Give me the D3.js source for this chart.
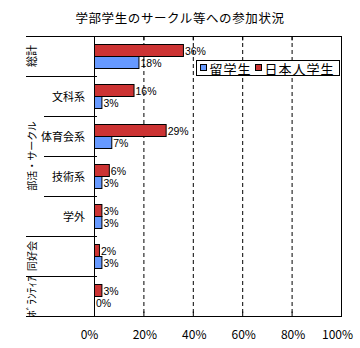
<!DOCTYPE html>
<html><head><meta charset="utf-8">
<script src="https://cdn.jsdelivr.net/npm/d3@7"></script>
<style>
html,body{margin:0;padding:0;background:#fff;}
svg{display:block;font-family:"Noto Sans CJK JP","Noto Sans",sans-serif;}
</style></head>
<body>
<svg id="chart" width="360" height="348"></svg>
<script>
const title = "学部学生のサークル等への参加状況";
const rowLabels = ["", "文科系", "体育会系", "技術系", "学外", "", ""];
const groupLabels = ["総計", "部活・サークル", "同好会", "ﾎﾞﾗﾝﾃｨｱ"];
const groupSpans = [1, 4, 1, 1];
const seriesNames = ["日本人学生", "留学生"];
const japanese = [36, 16, 29, 6, 3, 2, 3];
const intl = [18, 3, 7, 3, 3, 3, 0];
const xTicks = [0, 20, 40, 60, 80, 100];
const colors = {"日本人学生": "#cc3333", "留学生": "#6699ff"};

const svg = d3.select("#chart");
const L = 94, R = 341, T = 36, B = 316, labelLeft = 26, subLeft = 44;

const x = d3.scaleLinear().domain([0, 100]).range([L, R]);
const y = d3.scaleBand().domain(d3.range(rowLabels.length)).range([T, B]);
const yi = d3.scaleBand().domain(seriesNames).range([0, y.bandwidth()]).paddingOuter(0.667);

// title
svg.append("text").attr("x", 180).attr("y", 23).attr("text-anchor", "middle")
  .attr("font-size", 12.5).attr("letter-spacing", 0.6).text(title);

// gridlines
svg.append("g").selectAll("line").data(xTicks.slice(1, -1)).join("line")
  .attr("x1", d => x(d) + 0.5).attr("x2", d => x(d) + 0.5)
  .attr("y1", T).attr("y2", B)
  .attr("stroke", "#000").attr("stroke-dasharray", "4,3");

// bottom axis
const gb = svg.append("g").attr("transform", `translate(0,${B + 0.5})`)
  .call(d3.axisBottom(x).tickValues(xTicks).tickFormat(d => d + "%")
    .tickSizeInner(-5).tickSizeOuter(0).tickPadding(14));
gb.select(".domain").attr("d", `M${labelLeft},0H${R + 0.5}`).attr("stroke", "#000");
gb.selectAll(".tick line").attr("stroke", "#000");
gb.selectAll(".tick text").attr("font-size", 12).attr("font-family", "Noto Sans CJK JP").attr("fill", "#000")
  .attr("dx", d => d === 0 ? -5 : (d === 100 ? -4 : 1));

// top axis
const gt = svg.append("g").attr("transform", `translate(0,${T + 0.5})`)
  .call(d3.axisTop(x).tickValues(xTicks).tickFormat("").tickSizeInner(-4).tickSizeOuter(0));
gt.select(".domain").attr("d", `M${labelLeft},0H${R + 0.5}`).attr("stroke", "#000");
gt.selectAll(".tick line").attr("stroke", "#000");

// left and right axis lines
svg.append("line").attr("x1", L + 0.5).attr("x2", L + 0.5).attr("y1", T).attr("y2", B + 1).attr("stroke", "#000");
svg.append("line").attr("x1", R + 0.5).attr("x2", R + 0.5).attr("y1", T).attr("y2", B + 1).attr("stroke", "#000");

// category separators
const groupStarts = [];
let acc = 0;
groupSpans.forEach(s => { groupStarts.push(acc); acc += s; });
const seps = d3.range(1, rowLabels.length).map(i => ({i, major: groupStarts.includes(i)}));
svg.append("g").selectAll("line").data(seps).join("line")
  .attr("x1", d => d.major ? labelLeft : subLeft).attr("x2", L + 3)
  .attr("y1", d => y(d.i) + 0.5).attr("y2", d => y(d.i) + 0.5)
  .attr("stroke", "#000");

// sub labels
svg.append("g").selectAll("text").data(rowLabels).join("text")
  .attr("x", 85).attr("y", (d, i) => y(i) + y.bandwidth() / 2)
  .attr("text-anchor", "end").attr("dominant-baseline", "central")
  .attr("font-size", 11).text(d => d);

// group labels (vertical)
svg.append("g").selectAll("text").data(groupLabels).join("text")
  .attr("transform", (d, k) => {
    const y0 = y(groupStarts[k]);
    const y1 = y(groupStarts[k] + groupSpans[k] - 1) + y.bandwidth();
    return `translate(31,${(y0 + y1) / 2}) rotate(-90)`;
  })
  .attr("text-anchor", "middle").attr("dominant-baseline", "central")
  .attr("font-size", (d, k) => k === 0 ? 11 : (k === 3 ? 11.5 : 10)).text(d => d);

// bars
const rows = rowLabels.map((d, i) => ({i, "日本人学生": japanese[i], "留学生": intl[i]}));
const gRows = svg.append("g").selectAll("g").data(rows).join("g")
  .attr("transform", d => `translate(0,${y(d.i)})`);
gRows.selectAll("rect").data(d => seriesNames.map(s => ({s, v: d[s]}))).join("rect")
  .filter(d => d.v > 0)
  .attr("x", x(0) + 0.5).attr("y", d => yi(d.s) + 0.5)
  .attr("width", d => x(d.v) - x(0)).attr("height", yi.bandwidth())
  .attr("fill", d => colors[d.s]).attr("stroke", "#000");
gRows.selectAll("text").data(d => seriesNames.map(s => ({s, v: d[s]}))).join("text")
  .attr("x", d => x(d.v) + 2).attr("y", d => yi(d.s) + yi.bandwidth() / 2 + 1)
  .attr("dominant-baseline", "central").attr("font-size", 10.5)
  .attr("font-family", "'Liberation Sans', Arial, sans-serif")
  .text(d => d.v + "%");

// legend
const lg = svg.append("g").attr("transform", "translate(196.5,60.5)");
lg.append("rect").attr("width", 143).attr("height", 15).attr("fill", "#fff").attr("stroke", "#000");
const legendItems = ["留学生", "日本人学生"];
const legendX = [4, 59];
legendItems.forEach((s, k) => {
  lg.append("rect").attr("x", legendX[k]).attr("y", 4).attr("width", 6).attr("height", 6)
    .attr("fill", colors[s]).attr("stroke", "#000");
  lg.append("text").attr("x", legendX[k] + 9).attr("y", 8).attr("dominant-baseline", "central")
    .attr("font-size", 13).attr("letter-spacing", 1).text(s);
});
</script>
</body></html>
